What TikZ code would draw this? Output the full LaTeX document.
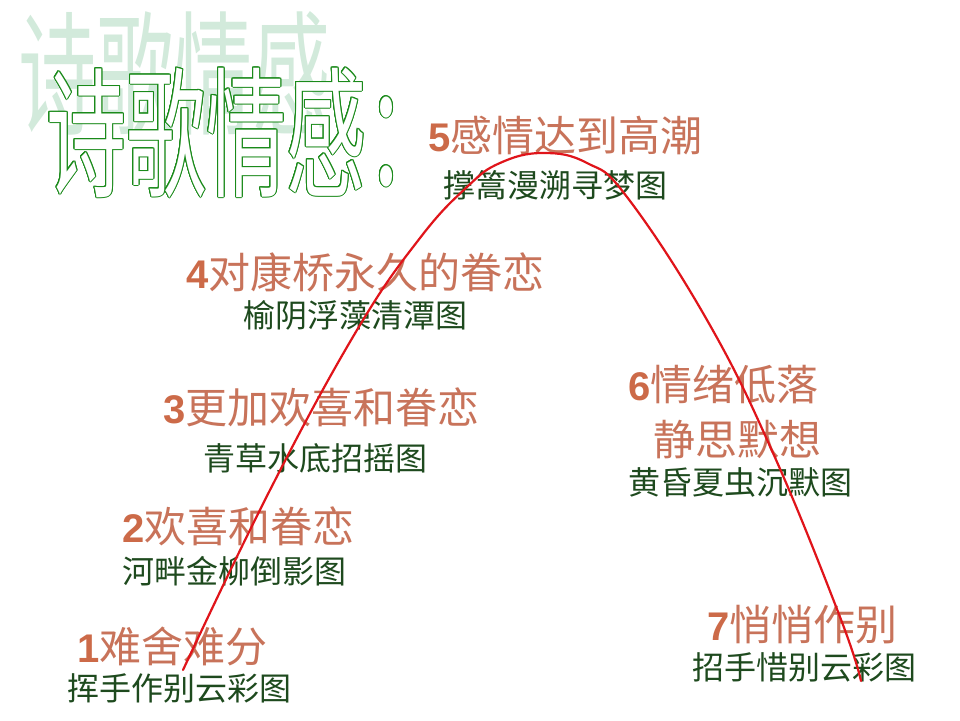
\documentclass[tikz,border=0pt]{standalone}
\usepackage{fontspec}
\newfontfamily\cjk{Noto Sans CJK SC}
\newfontfamily\numf{Liberation Sans}
\definecolor{labc}{HTML}{C8735A}
\definecolor{numc}{HTML}{CC6A48}
\definecolor{subc}{HTML}{1E4A1E}
\definecolor{shadc}{HTML}{D2EADB}
\definecolor{outc}{HTML}{1A8A1A}
\definecolor{curvec}{HTML}{E0141A}
\newcommand\lnum[1]{{\numf\bfseries\fontsize{40}{40}\selectfont\color{numc}#1}}
\newcommand\titletext{诗歌情感：}
\tikzset{
  lab/.style={anchor=base west, inner sep=0, text=labc, font=\cjk\fontsize{42}{42}\selectfont},
  sub/.style={anchor=base west, inner sep=0, text=subc, font=\cjk\fontsize{32}{32}\selectfont},
  ttl/.style={anchor=base west, inner sep=0, font=\cjk\fontsize{80}{80}\selectfont},
  curveline/.style={draw=curvec, line width=2.2pt, line cap=round}
}
\begin{document}
\begin{tikzpicture}[x=1pt,y=-1pt]
\fill[white] (0,0) rectangle (960,720);
\useasboundingbox (0,0) rectangle (960,720);
% title shadow
\node (shadow) [anchor=base west, inner sep=0, text=shadc, font=\cjk\fontsize{78}{78}\selectfont] at (18,124) {\scalebox{1}[1.72]{诗歌情感}};
% title outline
\foreach \a [count=\i] in {0,22.5,...,337.5}
  \node (o\i) [ttl, text=outc] at ([shift={(\a:1.0)}]46,186) {\scalebox{1}[1.76]{\titletext}};
\node (title) [ttl, text=white] at (46,186) {\scalebox{1}[1.76]{\titletext}};
% labels
\node (l5) [lab] at (428,151) {\lnum{5}感情达到高潮};
\node (s5) [sub] at (443,197) {撑篙漫溯寻梦图};
\node (l4) [lab] at (186,288) {\lnum{4}对康桥永久的眷恋};
\node (s4) [sub] at (243,327) {榆阴浮藻清潭图};
\node (l3) [lab] at (163,423) {\lnum{3}更加欢喜和眷恋};
\node (s3) [sub] at (203,470) {青草水底招摇图};
\node (l2) [lab] at (122,542) {\lnum{2}欢喜和眷恋};
\node (s2) [sub] at (122,583) {河畔金柳倒影图};
\node (l1) [lab] at (77,662) {\lnum{1}难舍难分};
\node (s1) [sub] at (67,700) {挥手作别云彩图};
\node (l6a) [lab] at (628,400) {\lnum{6}情绪低落};
\node (l6b) [lab] at (653,455) {静思默想};
\node (s6) [sub] at (628,494) {黄昏夏虫沉默图};
\node (l7) [lab] at (707,640) {\lnum{7}悄悄作别};
\node (s7) [sub] at (692,679) {招手惜别云彩图};
% curve
\draw[curveline] plot[smooth, tension=0.7] coordinates {(183,670) (270,490) (357,330) (420,238) (467,187) (500,163) (543,153) (587,163) (627,197) (707,320) (773,453) (840,617) (861,681)};
\end{tikzpicture}
\end{document}
